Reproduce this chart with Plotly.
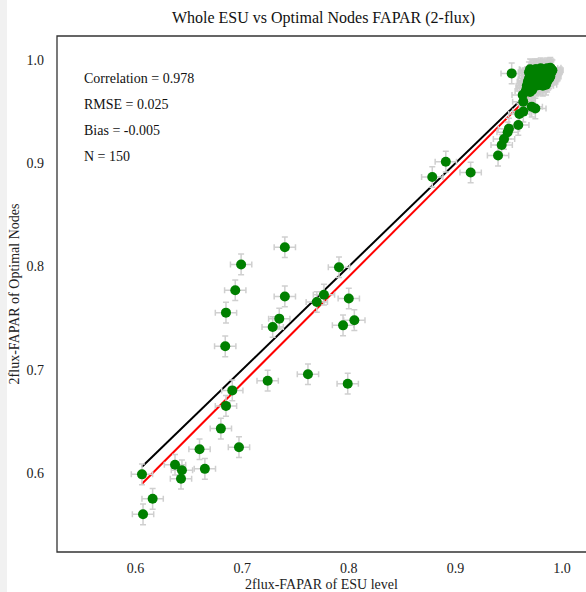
import numpy as np
import plotly.graph_objects as go

# ---------------- data ----------------
# scattered points (ESU level, optimal nodes)
scatter_esu = [0.6848, 0.680, 0.697, 0.660, 0.637, 0.6435, 0.6426, 0.665, 0.606, 0.616, 0.607,
               0.740, 0.699, 0.6935, 0.740, 0.6848, 0.7348, 0.7286, 0.6841, 0.770, 0.7767,
               0.7617, 0.7239, 0.6907, 0.7908, 0.800, 0.8052, 0.7946, 0.799,
               0.891, 0.8783, 0.9143, 0.940,
               0.9434, 0.9456, 0.9490, 0.9502, 0.959, 0.960, 0.9637, 0.9716, 0.975, 0.9637, 0.9631,
               0.9528]
scatter_nodes = [0.665, 0.643, 0.625, 0.623, 0.608, 0.6026, 0.5945, 0.604, 0.5987, 0.575, 0.560,
                 0.8186, 0.802, 0.777, 0.771, 0.7553, 0.7495, 0.7414, 0.7227, 0.7656, 0.7727,
                 0.6956, 0.6894, 0.680, 0.7993, 0.769, 0.748, 0.743, 0.6865,
                 0.9015, 0.8867, 0.891, 0.9074,
                 0.9177, 0.9235, 0.9300, 0.9335, 0.937, 0.9477, 0.950, 0.9548, 0.953, 0.9596, 0.9661,
                 0.987]

# dense cluster near (1, 1)
cluster_esu = [0.966, 0.968, 0.970, 0.972, 0.967,
               0.967, 0.970, 0.973, 0.976, 0.979, 0.982, 0.985, 0.969,
               0.968, 0.971, 0.974, 0.977, 0.980, 0.983, 0.986, 0.975, 0.981,
               0.969, 0.972, 0.975, 0.978, 0.981, 0.984, 0.987, 0.973, 0.979, 0.985,
               0.970, 0.973, 0.976, 0.979, 0.982, 0.985, 0.988, 0.977, 0.983, 0.989,
               0.969, 0.972, 0.975, 0.978, 0.981, 0.984, 0.987, 0.990, 0.974,
               0.970, 0.973, 0.976, 0.979, 0.982, 0.985, 0.988, 0.991, 0.980, 0.986, 0.989, 0.971,
               0.977, 0.980, 0.983, 0.986, 0.988, 0.990, 0.978, 0.981, 0.984, 0.987,
               0.974, 0.976, 0.979, 0.982, 0.985, 0.988, 0.972, 0.975, 0.978, 0.981,
               0.984, 0.986, 0.989, 0.983, 0.980, 0.977, 0.974, 0.971, 0.969, 0.973,
               0.976, 0.979, 0.982, 0.985, 0.988, 0.990, 0.987, 0.984, 0.978, 0.972,
               0.975, 0.981]
cluster_nodes = [0.970, 0.972, 0.969, 0.971, 0.973,
                 0.975, 0.976, 0.974, 0.975, 0.976, 0.975, 0.976, 0.977,
                 0.979, 0.978, 0.980, 0.978, 0.979, 0.978, 0.979, 0.977, 0.981,
                 0.982, 0.981, 0.983, 0.982, 0.983, 0.982, 0.981, 0.984, 0.984, 0.984,
                 0.985, 0.986, 0.985, 0.986, 0.985, 0.986, 0.985, 0.987, 0.987, 0.987,
                 0.988, 0.988, 0.989, 0.988, 0.989, 0.988, 0.989, 0.988, 0.990,
                 0.991, 0.990, 0.991, 0.990, 0.991, 0.990, 0.991, 0.990, 0.992, 0.992, 0.9925, 0.9905,
                 0.984, 0.986, 0.989, 0.988, 0.990, 0.991, 0.990, 0.987, 0.990, 0.986,
                 0.982, 0.980, 0.981, 0.980, 0.980, 0.982, 0.983, 0.986, 0.985, 0.984,
                 0.985, 0.983, 0.984, 0.982, 0.983, 0.981, 0.978, 0.975, 0.980, 0.977,
                 0.988, 0.989, 0.988, 0.987, 0.987, 0.989, 0.984, 0.979, 0.977, 0.986,
                 0.991, 0.990]

esu_fapar = scatter_esu + cluster_esu
node_fapar = scatter_nodes + cluster_nodes

err_esu = 0.010      # horizontal error-bar half length
err_nodes = 0.010    # vertical error-bar half length

fit_slope = 1.034    # red regression line
fit_intercept = -0.037

stats = ["Correlation = 0.978", "RMSE = 0.025", "Bias = -0.005", "N = 150"]

tick_vals = [0.6, 0.7, 0.8, 0.9, 1.0]
tick_text = ["0.6", "0.7", "0.8", "0.9", "1.0"]

title_text = "Whole ESU vs Optimal Nodes FAPAR (2-flux)"
x_title = "2flux-FAPAR of ESU level"
y_title = "2flux-FAPAR of Optimal Nodes"

# ---------------- figure ----------------
FONT = "Liberation Serif, Times New Roman, serif"
W, H = 586, 592
ML, MR, MT, MB = 57, 0, 36, 40
pw, ph = W - ML - MR, H - MT - MB

x_lo, x_hi = min(esu_fapar), max(esu_fapar)
line_x = np.array([x_lo, x_hi])

fig = go.Figure()
fig.add_trace(go.Scatter(x=line_x, y=line_x, mode="lines",
                         line=dict(color="black", width=2), hoverinfo="skip"))
fig.add_trace(go.Scatter(x=line_x, y=fit_slope * line_x + fit_intercept, mode="lines",
                         line=dict(color="red", width=2), hoverinfo="skip"))
fig.add_trace(go.Scatter(
    x=esu_fapar, y=node_fapar, mode="markers",
    marker=dict(color="#008000", size=10, line=dict(width=0)),
    error_x=dict(type="constant", value=err_esu, color="#cfcfcf", thickness=1.5, width=3),
    error_y=dict(type="constant", value=err_nodes, color="#cfcfcf", thickness=1.5, width=3),
))

for i, s in enumerate(stats):
    ypx = 78 + 26 * i
    fig.add_annotation(text=s, xref="paper", yref="paper",
                       x=(82 - ML) / pw, y=1 - (ypx - MT) / ph,
                       xanchor="left", yanchor="middle", showarrow=False,
                       font=dict(family=FONT, size=14, color="#111"))

# frame (right edge falls outside the image, as in the reference)
fig.add_shape(type="rect", xref="paper", yref="paper", x0=0, x1=1.02, y0=0, y1=1,
              line=dict(color="#333333", width=1.3), layer="above")
# faint grey strip at the left border of the image
fig.add_shape(type="rect", xref="paper", yref="paper",
              x0=-ML / pw, x1=-(ML - 7) / pw, y0=-MB / ph, y1=1 + MT / ph,
              fillcolor="#f1f1f1", line=dict(width=0), layer="below")

fig.update_layout(
    width=W, height=H,
    margin=dict(l=ML, r=MR, t=MT, b=MB, autoexpand=False),
    plot_bgcolor="white", paper_bgcolor="white",
    showlegend=False,
    font=dict(family=FONT, color="#222"),
    title=dict(text=title_text, x=(323.5 - ML) / pw, xref="paper", xanchor="center",
               y=1 - 17 / H, yref="container", yanchor="middle",
               font=dict(family=FONT, size=16, color="#111")),
    xaxis=dict(range=[0.5263, 1.0225], tickvals=tick_vals, ticktext=tick_text,
               showgrid=False, zeroline=False, showline=False, ticks="",
               tickfont=dict(family=FONT, size=14, color="#222"),
               ticklabelstandoff=6,
               title=dict(text=x_title, font=dict(family=FONT, size=14, color="#222"), standoff=4)),
    yaxis=dict(range=[0.5235, 1.0232], tickvals=tick_vals, ticktext=tick_text,
               showgrid=False, zeroline=False, showline=False, ticks="",
               tickfont=dict(family=FONT, size=14, color="#222"),
               ticklabelstandoff=12,
               title=dict(text=y_title, font=dict(family=FONT, size=14, color="#222"), standoff=3)),
)

fig.write_html("out.html",
               config={"displayModeBar": False},
               post_script="document.body.style.margin='0';document.body.style.padding='0';")
